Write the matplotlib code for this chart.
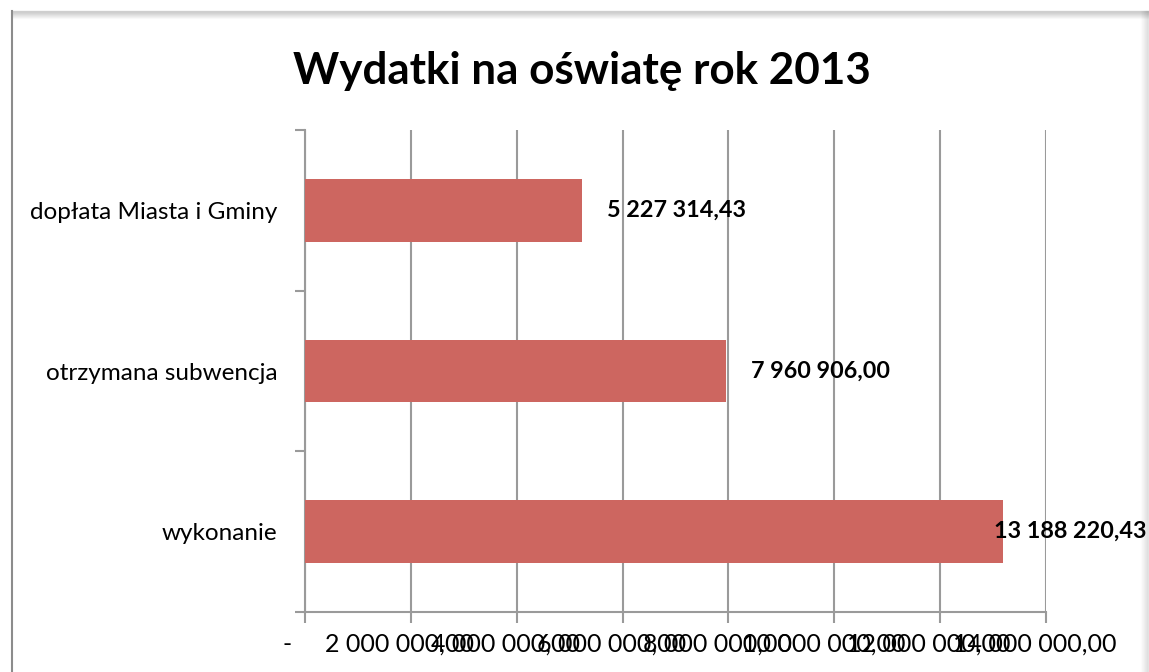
import numpy as np
import matplotlib
matplotlib.use("Agg")
import matplotlib.pyplot as plt
import matplotlib.transforms as mtransforms
from matplotlib.lines import Line2D

# data
categories = ["wykonanie", "otrzymana subwencja", "dopłata Miasta i Gminy"]
values = [13188220.43, 7960906.00, 5227314.43]
value_labels = ["13 188 220,43", "7 960 906,00", "5 227 314,43"]
x_ticks = [0, 2e6, 4e6, 6e6, 8e6, 10e6, 12e6, 14e6]
x_tick_labels = ["-  ", "2 000 000,00", "4 000 000,00", "6 000 000,00",
                 "8 000 000,00", "10 000 000,00", "12 000 000,00", "14 000 000,00"]

plt.rcParams['font.family'] = ['Lato', 'DejaVu Sans']

W, H = 1149, 672
fig = plt.figure(figsize=(W / 100, H / 100), dpi=100)
fig.patch.set_facecolor('white')

# chart frame with a soft shadow along the top and right
for i in range(8):
    a = 0.28 * (1 - i / 8)
    fig.add_artist(Line2D([12 / W, 1], [1 - (11 + i) / H, 1 - (11 + i) / H],
                          transform=fig.transFigure, color='black', alpha=a * 0.6, lw=1))
    fig.add_artist(Line2D([1 - (i + 1) / W, 1 - (i + 1) / W], [0, 1 - 11 / H],
                          transform=fig.transFigure, color='black', alpha=a * 0.35, lw=1))
fig.add_artist(Line2D([12 / W, 12 / W], [0, 1 - 11 / H], transform=fig.transFigure,
                      color='#8c8c8c', lw=1.5))

ax = fig.add_axes([305 / W, 60 / H, 741 / W, 482 / H])
grid_col = '#9a9a9a'

y = np.arange(len(categories))
ax.barh(y, values, height=0.39, color='#cd6660', zorder=3)

ax.set_xlim(0, 14e6)
ax.set_ylim(-0.5, len(categories) - 0.5)
ax.set_xticks(x_ticks)
ax.set_xticklabels(x_tick_labels, fontsize=18)
ax.set_yticks(y)
ax.set_yticklabels(categories, fontsize=17.5)
ax.tick_params(axis='y', length=0, pad=20)
ax.set_yticks(np.arange(-0.5, len(categories), 1), minor=True)
ax.tick_params(axis='y', which='minor', length=7, width=1.5, color=grid_col)
ax.tick_params(axis='x', length=8, width=1.5, color=grid_col, pad=7)

# Excel pads the number format on the right, so labels sit a bit left of the ticks
shift = mtransforms.ScaledTranslation(-0.11, 0, fig.dpi_scale_trans)
for lbl in ax.get_xticklabels():
    lbl.set_transform(lbl.get_transform() + shift)

ax.grid(axis='x', color=grid_col, lw=1.5, zorder=0)
for s in ['top', 'right']:
    ax.spines[s].set_visible(False)
for s in ['left', 'bottom']:
    ax.spines[s].set_color(grid_col)
    ax.spines[s].set_linewidth(1.5)

# value labels, pushed inside the chart area when they would overflow
for yi, v, lab in zip(y, values, value_labels):
    if v > 0.9 * 14e6:
        ax.text((1147 - 305) / 741, yi, lab, transform=ax.get_yaxis_transform(),
                fontsize=16.8, fontweight='bold', ha='right', va='center', zorder=4)
    else:
        ax.annotate(lab, (v, yi), xytext=(25, 0), textcoords='offset pixels',
                    fontsize=16.8, fontweight='bold', ha='left', va='center', zorder=4)

fig.text(582 / W, 1 - 71 / H, "Wydatki na oświatę rok 2013", fontsize=31.7,
         fontweight='bold', ha='center', va='center')

fig.savefig("out.png", dpi=100)
